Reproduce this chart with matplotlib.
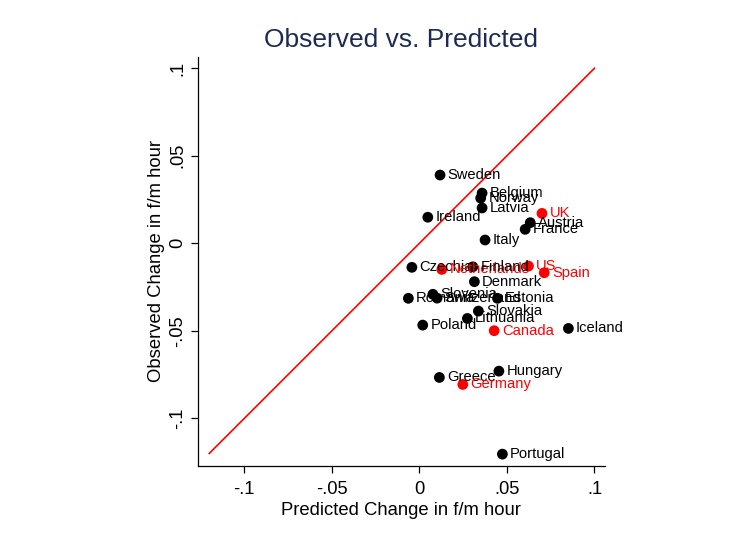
import numpy as np
import matplotlib
matplotlib.use('Agg')
import matplotlib.pyplot as plt

plt.rcParams['font.family'] = ['Liberation Sans', 'DejaVu Sans']

# Predicted vs observed change in female/male hours, by country
countries = ['Sweden', 'Belgium', 'Norway', 'Latvia', 'Ireland', 'UK', 'Austria', 'France',
             'Italy', 'Czechia', 'Netherlands', 'Finland', 'US', 'Spain', 'Denmark',
             'Romania', 'Slovenia', 'Switzerland', 'Estonia', 'Slovakia', 'Lithuania',
             'Poland', 'Canada', 'Iceland', 'Greece', 'Hungary', 'Germany', 'Portugal']
predicted = [0.0118, 0.0358, 0.0350, 0.0358, 0.0048, 0.0700, 0.0633, 0.0604,
             0.0375, -0.0043, 0.0128, 0.0305, 0.0623, 0.0713, 0.0314,
             -0.0063, 0.0077, 0.0101, 0.0446, 0.0337, 0.0274,
             0.0019, 0.0427, 0.0851, 0.0114, 0.0454, 0.0248, 0.0474]
observed = [0.0390, 0.0287, 0.0258, 0.0202, 0.0149, 0.0171, 0.0118, 0.0080,
            0.0019, -0.0137, -0.0149, -0.0134, -0.0130, -0.0168, -0.0219,
            -0.0314, -0.0291, -0.0313, -0.0314, -0.0387, -0.0429,
            -0.0467, -0.0499, -0.0486, -0.0766, -0.0730, -0.0806, -0.1204]
highlight = ['UK', 'Netherlands', 'US', 'Spain', 'Canada', 'Germany']

ticks = [-0.1, -0.05, 0, 0.05, 0.1]
tick_labels = ['-.1', '-.05', '0', '.05', '.1']
line_ends = [-0.12, 0.1]

fig = plt.figure(figsize=(7.37, 5.41), dpi=100)
ax = fig.add_axes([0.2683, 0.1392, 0.5526, 0.7560])

# 45-degree reference line
ax.plot(line_ends, line_ends, color='red', linewidth=1.2, zorder=1)

for name, xp, yo in zip(countries, predicted, observed):
    col = 'red' if name in highlight else 'black'
    ax.scatter(xp, yo, s=60, color=col, edgecolors='none', zorder=3)
    ax.annotate(name, (xp, yo), xytext=(5.5, 0), textcoords='offset points',
                ha='left', va='center', fontsize=10.6, color=col, zorder=4)

ax.set_xlim(-0.1266, 0.106)
ax.set_ylim(-0.127, 0.1066)
ax.set_xticks(ticks)
ax.set_xticklabels(tick_labels)
ax.set_yticks(ticks)
ax.set_yticklabels(tick_labels, rotation=90, va='center')
ax.tick_params(axis='both', labelsize=13.2, length=5, width=0.9, direction='out')
ax.tick_params(axis='x', pad=6)

for side in ['top', 'right']:
    ax.spines[side].set_visible(False)
for side in ['left', 'bottom']:
    ax.spines[side].set_linewidth(0.9)

ax.set_xlabel('Predicted Change in f/m hour', fontsize=13.3, labelpad=3)
ax.set_ylabel('Observed Change in f/m hour', fontsize=13.3, labelpad=3)
ax.set_title('Observed vs. Predicted', fontsize=19, color='#1c2b53', pad=7)

fig.savefig('out.png', dpi=100)
